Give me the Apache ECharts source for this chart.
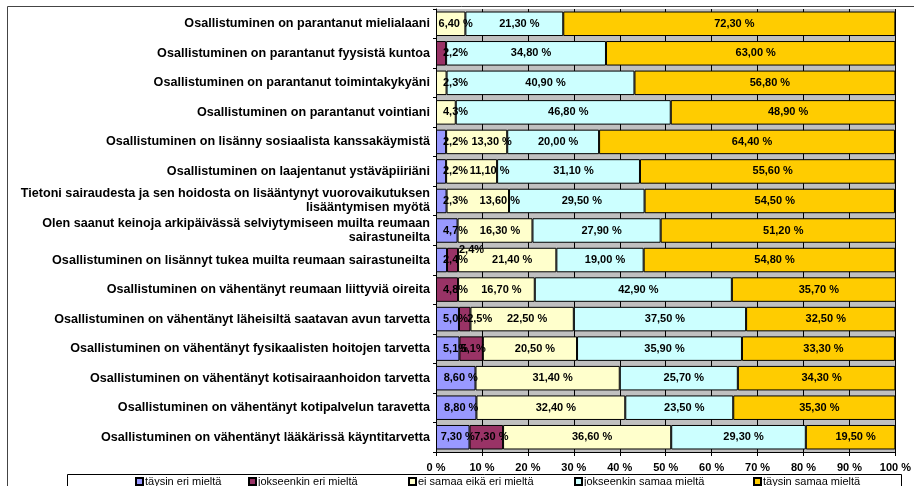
<!DOCTYPE html>
<html>
<head>
<meta charset="utf-8">
<script src="https://cdn.jsdelivr.net/npm/echarts@6/dist/echarts.min.js"></script>
<style>
  html, body { margin: 0; padding: 0; background: #fff; }
  #chart { width: 914px; height: 486px; }
</style>
</head>
<body>
<div id="chart"></div>
<script>
// kategoriat ylhäältä alas
const categories = [
  "Osallistuminen on parantanut mielialaani",
  "Osallistuminen on parantanut fyysistä kuntoa",
  "Osallistuminen on parantanut toimintakykyäni",
  "Osallistuminen on parantanut vointiani",
  "Osallistuminen on lisänny sosiaalista kanssakäymistä",
  "Osallistuminen on laajentanut ystäväpiiriäni",
  "Tietoni sairaudesta ja sen hoidosta on lisääntynyt vuorovaikutuksen\nlisääntymisen myötä",
  "Olen saanut keinoja arkipäivässä selviytymiseen muilta reumaan\nsairastuneilta",
  "Osallistuminen on lisännyt tukea muilta reumaan sairastuneilta",
  "Osallistuminen on vähentänyt reumaan liittyviä oireita",
  "Osallistuminen on vähentänyt läheisiltä saatavan avun tarvetta",
  "Osallistuminen on vähentänyt fysikaalisten hoitojen tarvetta",
  "Osallistuminen on vähentänyt kotisairaanhoidon tarvetta",
  "Osallistuminen on vähentänyt kotipalvelun taravetta",
  "Osallistuminen on vähentänyt lääkärissä käyntitarvetta"
];

const seriesNames = [
  "täysin eri mieltä",
  "jokseenkin eri mieltä",
  "ei samaa eikä eri mieltä",
  "jokseenkin samaa mieltä",
  "täysin samaa mieltä"
];

const taysinEri       = [0, 0, 0, 0, 2.2, 2.2, 2.3, 4.7, 2.4, 0, 5.0, 5.1, 8.6, 8.8, 7.3];
const jokseenkinEri   = [0, 2.2, 0, 0, 0, 0, 0, 0, 2.4, 4.8, 2.5, 5.1, 0, 0, 7.3];
const eiSamaaEikaEri  = [6.4, 0, 2.3, 4.3, 13.3, 11.1, 13.6, 16.3, 21.4, 16.7, 22.5, 20.5, 31.4, 32.4, 36.6];
const jokseenkinSamaa = [21.3, 34.8, 40.9, 46.8, 20.0, 31.1, 29.5, 27.9, 19.0, 42.9, 37.5, 35.9, 25.7, 23.5, 29.3];
const taysinSamaa     = [72.3, 63.0, 56.8, 48.9, 64.4, 55.6, 54.5, 51.2, 54.8, 35.7, 32.5, 33.3, 34.3, 35.3, 19.5];

const values = [taysinEri, jokseenkinEri, eiSamaaEikaEri, jokseenkinSamaa, taysinSamaa];
const colors = ["#9999FF", "#993366", "#FFFFCC", "#CCFFFF", "#FFCC00"];

const font = "Liberation Sans, Arial, sans-serif";

// nimiöiden siirrot, joilla Excel väisti päällekkäisyyksiä ("sarja-rivi")
const labelShift = {
  "1-8": [19, -10],
  "1-10": [15, 0],
  "1-11": [2, 0],
  "2-4": [15, 0],
  "2-5": [18, 0],
  "2-6": [22, 0]
};

// pienet arvot näytetään muodossa "2,2%", muut "21,30 %"
function fmt(v) {
  if (v < 6) return v.toFixed(1).replace(".", ",") + "%";
  return v.toFixed(2).replace(".", ",") + " %";
}

const series = values.map((arr, si) => {
  return {
    name: seriesNames[si],
    type: "bar",
    stack: "total",
    barCategoryGap: "17%",
    // aiemmat sarjat päällimmäisiksi, ettei seuraava palkki peitä nimiötä
    z: 10 - si,
    itemStyle: {
      color: colors[si],
      borderColor: "#000",
      borderWidth: 1
    },
    label: {
      show: true,
      position: "inside",
      offset: [5, 0],
      color: "#000",
      fontFamily: font,
      fontWeight: "bold",
      fontSize: 11,
      formatter: p => (p.value ? fmt(p.value) : "")
    },
    data: arr.map((v, i) => {
      if (!v) return null;
      let start = 0;
      for (let k = 0; k < si; k++) start += values[k][i];
      const key = si + "-" + i;
      if (labelShift[key]) {
        return { value: v, label: { offset: labelShift[key] } };
      }
      if (start === 0 && v < 6) {
        return { value: v, label: { position: "insideLeft", distance: 7, offset: [0, 0] } };
      }
      return v;
    })
  };
});

// erillinen selite jokaiselle sarjalle, jotta sijainnit osuvat kohdalleen
const legendLeft = [135, 248, 408, 574, 753];
const legends = seriesNames.map((n, i) => ({
  data: [n],
  left: legendLeft[i],
  top: 476,
  icon: "rect",
  itemWidth: 7,
  itemHeight: 7,
  itemGap: 0,
  padding: 0,
  textStyle: {
    fontFamily: font,
    fontSize: 11,
    color: "#000",
    padding: [0, 0, 0, -3]
  }
}));

const chart = echarts.init(document.getElementById("chart"));

chart.setOption({
  animation: false,
  textStyle: { fontFamily: font },
  graphic: [
    {
      type: "rect",
      shape: { x: 7.5, y: 6.5, width: 920, height: 500 },
      style: { fill: null, stroke: "#444", lineWidth: 1 },
      silent: true,
      z: -10
    },
    {
      type: "rect",
      shape: { x: 67.5, y: 474.5, width: 834, height: 30 },
      style: { fill: "#fff", stroke: "#000", lineWidth: 1 },
      silent: true,
      z: -1
    }
  ],
  legend: legends,
  grid: {
    left: 436,
    right: 15,
    top: 9,
    bottom: 34,
    show: true,
    backgroundColor: "#C0C0C0",
    borderWidth: 0
  },
  xAxis: {
    type: "value",
    min: 0,
    max: 100,
    interval: 10,
    axisLine: { show: true, lineStyle: { color: "#000", width: 1 } },
    axisTick: { show: true, length: 4, lineStyle: { color: "#000" } },
    splitLine: { show: true, lineStyle: { color: "#000", width: 1 } },
    axisLabel: {
      formatter: "{value} %",
      color: "#000",
      fontFamily: font,
      fontWeight: "bold",
      fontSize: 11,
      margin: 10
    }
  },
  yAxis: {
    type: "category",
    inverse: true,
    data: categories,
    axisLine: { show: true, lineStyle: { color: "#000", width: 1 } },
    axisTick: { show: true, length: 3, lineStyle: { color: "#000" } },
    axisLabel: {
      color: "#000",
      fontFamily: font,
      fontWeight: "bold",
      fontSize: 12.6,
      lineHeight: 14,
      margin: 6,
      align: "right",
      interval: 0
    }
  },
  series: series
});
</script>
</body>
</html>
